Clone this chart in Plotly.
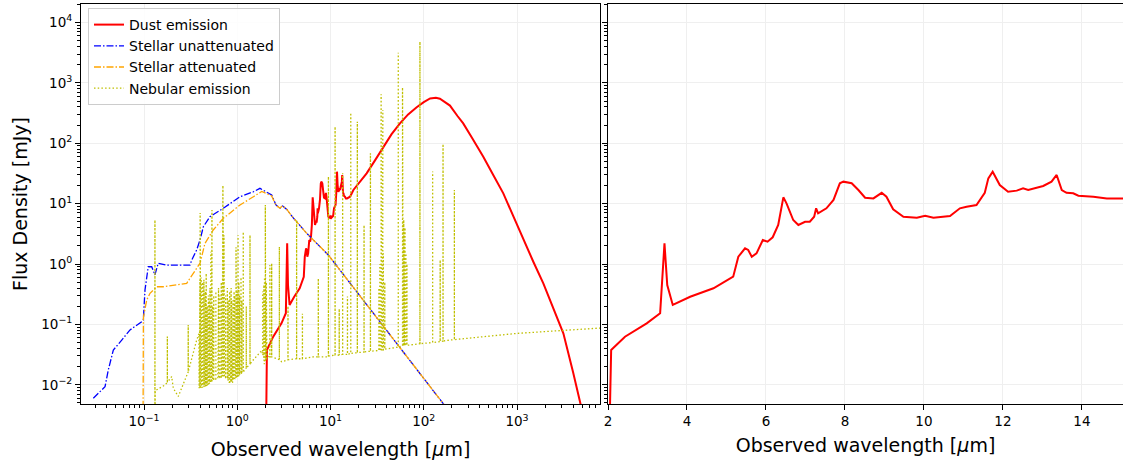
import plotly.graph_objects as go

# ---------------- data ----------------
dust_wl = [2.03, 2.08, 2.43, 2.64, 2.98, 3.32, 3.43, 3.50, 3.64, 4.08, 4.67, 5.17, 5.30, 5.47,
           5.55, 5.64, 5.76, 5.92, 6.04, 6.17, 6.31, 6.44, 6.52, 6.69, 6.82, 6.99, 7.11, 7.22,
           7.27, 7.32, 7.53, 7.71, 7.87, 7.96, 8.17, 8.34, 8.51, 8.72, 8.93, 9.05, 9.22, 9.48,
           9.82, 10.03, 10.24, 10.66, 10.91, 11.08, 11.33, 11.54, 11.63, 11.74, 11.92, 12.13,
           12.35, 12.51, 12.64, 13.02, 13.23, 13.36, 13.49, 13.61, 13.78, 13.91, 14.29, 14.63,
           15.03, 16.2, 17.6, 19.4, 24.4, 30, 36.8, 45, 55.6, 68, 84, 100, 117, 135, 149, 191,
           230, 265, 330, 435, 560, 713, 900, 1170, 1500, 1915, 2500, 3140, 4000, 4740, 7000]
dust_f = [0.001, 0.0377, 0.0626, 0.0757, 0.104, 0.153, 2.20, 0.449, 0.21, 0.287, 0.396, 0.616,
          1.32, 1.82, 1.71, 1.32, 1.50, 2.50, 2.34, 2.77, 4.42, 12.7, 10.1, 5.35, 4.42, 5.01,
          5.01, 6.07, 8.36, 6.91, 8.36, 11.5, 21.7, 23.1, 21.7, 16.8, 12.5, 12.2, 15.1, 13.0,
          8.05, 6.07, 5.84, 6.31, 5.84, 6.23, 8.36, 8.89, 9.48, 15.1, 26.2, 33.8, 20.3, 15.7,
          16.4, 17.9, 16.8, 19.6, 23.1, 29.8, 16.8, 15.1, 14.8, 13.5, 13.0, 12.2, 12.2, 13.0,
          16.8, 20.3, 31.7, 52, 87.5, 140, 213, 300, 395, 480, 550, 565, 545, 420,
          282, 213, 122, 59.8, 29.3, 14.8, 6.5, 2.5, 1.08, 0.479, 0.173, 0.071, 0.016, 0.0056,
          0.0004]

stel_unatt_wl = [0.0286, 0.0382, 0.0414, 0.0469, 0.0577, 0.0708, 0.0945, 0.0983, 0.1025, 0.111,
                 0.121, 0.131, 0.142, 0.175, 0.243, 0.311, 0.325, 0.367, 0.399, 0.433, 0.510,
                 0.709, 1.07, 1.49, 1.75, 2.07, 2.34, 2.60, 2.87, 3.05, 3.40, 3.99, 5.56, 9.47,
                 30, 149, 400]
stel_unatt_f = [0.006, 0.0093, 0.0176, 0.0377, 0.055, 0.081, 0.111, 0.118, 0.371, 0.90,
                0.90, 0.66, 1.03, 0.96, 0.96, 0.96, 1.16, 1.71, 2.50, 4.15, 6.07,
                8.36, 13.0, 15.7, 17.9, 15.7, 13.9, 9.5, 8.4, 9.2, 8.0, 5.8, 3.22, 1.41,
                0.14, 0.0057, 0.0008]

stel_att_wl = [0.0975, 0.0985, 0.1025, 0.107, 0.116, 0.137, 0.161, 0.206, 0.287, 0.311, 0.338,
               0.399, 0.451, 0.553, 0.709, 1.07, 1.49, 1.83, 2.07, 2.34, 2.60, 2.87, 3.05, 3.40,
               3.99, 5.56, 9.47, 30, 149, 400]
stel_att_f = [0.001, 0.13, 0.18, 0.254, 0.327, 0.42, 0.42, 0.449, 0.478, 0.58, 0.70,
              1.03, 2.2, 3.66, 5.71, 9.48, 13.0, 15.9, 14.6, 13.4, 9.4, 8.4, 9.2, 8.0,
              5.8, 3.22, 1.41, 0.14, 0.0057, 0.0008]

neb_cont_wl = [0.1305, 0.132, 0.168, 0.198, 0.206, 0.233, 0.298, 0.367, 0.388, 0.391, 0.45,
               0.55, 0.70, 0.82, 0.98, 1.2, 1.49, 1.83, 1.95, 2.1, 2.34, 3.0, 4.67, 6.5, 9.5,
               36.8, 191, 1000, 7800]
neb_cont_f = [0.001, 0.008, 0.0099, 0.0137, 0.0088, 0.0064, 0.0164, 0.055, 0.07, 0.0088, 0.0095,
              0.012, 0.014, 0.011, 0.0137, 0.018, 0.026, 0.037, 0.022, 0.03, 0.029, 0.024, 0.027,
              0.029, 0.029, 0.0377, 0.055, 0.071, 0.087]

neb_line_wl = [0.131, 0.178, 0.298, 0.392, 0.394, 0.396, 0.398, 0.400, 0.403, 0.406, 0.410,
               0.414, 0.416, 0.4248, 0.43, 0.4389, 0.445, 0.455, 0.4644, 0.475, 0.49, 0.50,
               0.51, 0.5201, 0.5306, 0.5357, 0.545, 0.56, 0.59, 0.62, 0.63, 0.65, 0.674, 0.69,
               0.702, 0.705, 0.720, 0.73, 0.75, 0.783, 0.80, 0.83, 0.85, 0.86, 0.87, 0.88,
               0.89, 0.90, 0.91, 0.925, 0.94, 0.955, 0.97, 0.985, 1.0, 1.02, 1.04, 1.06, 1.097,
               1.12, 1.16, 1.25, 1.37, 1.84, 1.87, 1.90, 1.93, 1.96, 2.0, 2.02, 2.05, 2.08,
               2.24, 2.34, 2.83, 3.5, 4.33, 5.0, 7.4, 9.5, 11.2, 12.4, 13.5, 15.2, 16.5, 19.4,
               22.9, 26.8, 33.0, 33.8, 34.9, 35.3, 35.8, 36.4, 36.9, 37.5, 38.2, 53.3, 59.2,
               60.2, 61.0, 62.0, 63.0, 64.5, 66.0, 91, 124.6, 150, 161, 213]
neb_line_peak = [5.35, 0.063, 0.098, 0.30, 0.45, 0.35, 0.55, 7.0, 0.40, 0.50, 0.60,
                 0.35, 0.45, 0.50, 0.30, 0.55, 0.25, 0.35, 0.70, 0.20, 0.30, 0.25,
                 0.40, 1.6, 2.6, 7.8, 0.20, 0.30, 0.35, 0.25, 0.40, 0.30, 0.5, 0.40,
                 20.0, 6.0, 3.0, 0.50, 0.30, 0.4, 0.25, 0.35, 0.30, 0.40, 0.25, 0.15,
                 0.2, 0.25, 0.3, 0.35, 0.3, 0.30, 1.9, 0.4, 0.35, 3.0, 0.5, 0.30, 0.6,
                 0.25, 3.4, 0.20, 3.0, 0.2, 0.35, 0.3, 0.45, 0.6, 9.5, 0.4, 0.5, 0.3,
                 0.96, 1.03, 1.93, 0.2, 5.35, 0.15, 0.58, 28, 188, 0.18, 31.8, 0.29, 320, 227,
                 4.4, 68, 0.4, 1.0, 646, 2.0, 2.8, 355, 1.5, 0.8, 0.5, 3150, 842,
                 3.0, 5.35, 2.0, 4.0, 1.5, 1.0, 4800, 34, 1.16, 97, 16.8]
neb_line_base = [0.002, 0.011, 0.0164, 0.0088, 0.0088, 0.0088, 0.0088, 0.0088, 0.0089, 0.0089,
                 0.009, 0.009, 0.009, 0.0092, 0.0093, 0.0094, 0.0095, 0.0096, 0.0097, 0.0099,
                 0.0103, 0.0106, 0.0108, 0.011, 0.0115, 0.0115, 0.0118, 0.012, 0.0124, 0.0128,
                 0.013, 0.0132, 0.013, 0.0137, 0.014, 0.014, 0.014, 0.0135, 0.013, 0.013,
                 0.0118, 0.011, 0.011, 0.011, 0.011, 0.011, 0.011, 0.012, 0.012, 0.012, 0.0125,
                 0.013, 0.013, 0.013, 0.0138, 0.014, 0.014, 0.015, 0.015, 0.016, 0.016, 0.019,
                 0.022, 0.035, 0.033, 0.03, 0.028, 0.026, 0.025, 0.025, 0.026, 0.028, 0.029,
                 0.029, 0.026, 0.026, 0.027, 0.027, 0.029, 0.030, 0.031, 0.031, 0.032, 0.032,
                 0.033, 0.034, 0.035, 0.036, 0.037, 0.037, 0.037, 0.038, 0.038, 0.038, 0.038,
                 0.038, 0.039, 0.042, 0.044, 0.044, 0.044, 0.045, 0.045, 0.045, 0.045, 0.048,
                 0.050, 0.052, 0.053, 0.056]

y_tick_vals = [1e-2, 1e-1, 1e0, 1e1, 1e2, 1e3, 1e4]
y_tick_text = ["10<sup>\u22122</sup>", "10<sup>\u22121</sup>", "10<sup>0</sup>", "10<sup>1</sup>",
               "10<sup>2</sup>", "10<sup>3</sup>", "10<sup>4</sup>"]
x_tick_vals = [1e-1, 1e0, 1e1, 1e2, 1e3]
x_tick_text = ["10<sup>\u22121</sup>", "10<sup>0</sup>", "10<sup>1</sup>", "10<sup>2</sup>",
               "10<sup>3</sup>"]
x2_tick_vals = [2, 4, 6, 8, 10, 12, 14]

# ---------------- build nebular path (continuum + vertical line spikes) ----------------
pts = [(w, 0, f) for w, f in zip(neb_cont_wl, neb_cont_f)]
for w, p, b in zip(neb_line_wl, neb_line_peak, neb_line_base):
    pts += [(w, 0, b), (w, 1, p), (w, 2, b)]
pts.sort(key=lambda t: (t[0], t[1]))
neb_x = [t[0] for t in pts]
neb_y = [t[2] for t in pts]

# minor tick positions for log axes
def minor_vals(lo, hi):
    out = []
    for e in range(lo, hi + 1):
        for m in range(2, 10):
            out.append(m * 10.0 ** e)
    return out

FONT = "DejaVu Sans"
fig = go.Figure()

fig.add_trace(go.Scatter(x=dust_wl, y=dust_f, mode="lines", name="Dust emission",
                         line=dict(color="#ff0000", width=2), xaxis="x", yaxis="y"))
fig.add_trace(go.Scatter(x=stel_unatt_wl, y=stel_unatt_f, mode="lines", name="Stellar unattenuated",
                         line=dict(color="#0000ff", width=1.3, dash="7px,2px,1.5px,2px"),
                         xaxis="x", yaxis="y"))
fig.add_trace(go.Scatter(x=stel_att_wl, y=stel_att_f, mode="lines", name="Stellar attenuated",
                         line=dict(color="#ffa500", width=1.3, dash="7px,2px,1.5px,2px"),
                         xaxis="x", yaxis="y"))
fig.add_trace(go.Scatter(x=neb_x, y=neb_y, mode="lines", name="Nebular emission",
                         line=dict(color="#bfbf00", width=1.3, dash="1.5px,2.2px"),
                         xaxis="x", yaxis="y"))
fig.add_trace(go.Scatter(x=dust_wl, y=dust_f, mode="lines", name="Dust emission",
                         showlegend=False, line=dict(color="#ff0000", width=2),
                         xaxis="x2", yaxis="y2"))

W, H = 1123, 467
ml, mr, mt, mb = 81, 0, 4, 63
pw = W - ml - mr
grid = "#efefef"
axis_common = dict(showline=True, linecolor="#000000", linewidth=1, ticks="outside",
                   ticklen=5, tickwidth=1, tickcolor="#000000", showgrid=True,
                   gridcolor=grid, gridwidth=1, zeroline=False,
                   tickfont=dict(family=FONT, size=13.5, color="#000000"))
minor_log = dict(ticks="outside", ticklen=3, tickwidth=0.8, tickcolor="#000000", showgrid=False)

fig.update_layout(
    width=W, height=H,
    margin=dict(l=ml, r=mr, t=mt, b=mb, pad=0),
    paper_bgcolor="white", plot_bgcolor="white",
    font=dict(family=FONT, color="#000000"),
    xaxis=dict(domain=[0, 519 / pw], type="log", range=[-1.6756, 3.890],
               tickmode="array", tickvals=x_tick_vals, ticktext=x_tick_text,
               mirror=True, anchor="y",
               minor=dict(tickmode="array", tickvals=minor_vals(-2, 3), **minor_log),
               title=dict(text="Observed wavelength [<i>\u03bc</i>m]", standoff=14,
                          font=dict(family=FONT, size=19, color="#000000")),
               **axis_common),
    yaxis=dict(type="log", range=[-2.318, 4.305], anchor="x",
               tickmode="array", tickvals=y_tick_vals, ticktext=y_tick_text,
               mirror=True,
               minor=dict(tickmode="array", tickvals=minor_vals(-3, 4), **minor_log),
               title=dict(text="Flux Density [mJy]", standoff=8,
                          font=dict(family=FONT, size=19, color="#000000")),
               **axis_common),
    xaxis2=dict(domain=[527 / pw, 1.0], range=[2.0, 15.04], anchor="y2",
                tickmode="array", tickvals=x2_tick_vals, mirror=True,
                title=dict(text="Observed wavelength [<i>\u03bc</i>m]", standoff=10,
                           font=dict(family=FONT, size=19, color="#000000")),
                **axis_common),
    yaxis2=dict(type="log", range=[-2.318, 4.305], anchor="x2", matches="y",
                tickmode="array", tickvals=y_tick_vals, showticklabels=False,
                minor=dict(tickmode="array", tickvals=minor_vals(-3, 4), **minor_log),
                **axis_common),
    legend=dict(x=7 / pw, y=1 - 4 / 400, xanchor="left", yanchor="top",
                bgcolor="rgba(255,255,255,0.85)", bordercolor="#cccccc", borderwidth=1,
                font=dict(family=FONT, size=14, color="#000000"), tracegroupgap=0),
    showlegend=True,
)

fig.write_html("out.html")
